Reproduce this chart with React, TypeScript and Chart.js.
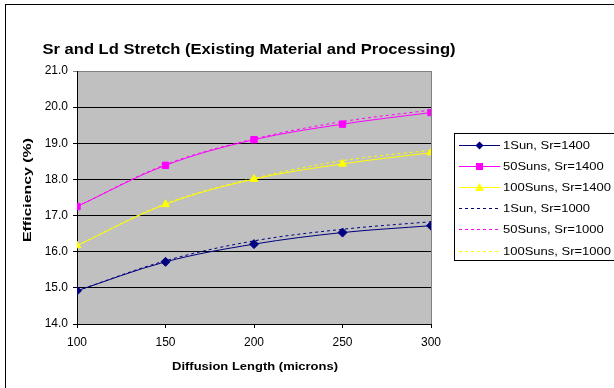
import React, { useEffect, useRef } from 'react';
import { Chart, registerables } from 'chart.js';

Chart.register(...registerables);

const diffusionLengths = [100, 150, 200, 250, 300];
const sun1Sr1400 = [14.92, 15.72, 16.21, 16.53, 16.72];
const suns50Sr1400 = [17.25, 18.39, 19.1, 19.53, 19.85];
const suns100Sr1400 = [16.17, 17.31, 18.01, 18.43, 18.74];
const sun1Sr1000 = [14.92, 15.75, 16.3, 16.62, 16.83];
const suns50Sr1000 = [17.25, 18.41, 19.12, 19.6, 19.92];
const suns100Sr1000 = [16.17, 17.33, 18.03, 18.52, 18.81];
const seriesLabels = [
  '1Sun, Sr=1400',
  '50Suns, Sr=1400',
  '100Suns, Sr=1400',
  '1Sun, Sr=1000',
  '50Suns, Sr=1000',
  '100Suns, Sr=1000',
];
const yMin = 14;
const yMax = 21;
const xMin = 100;
const xMax = 300;

const titleText = 'Sr and Ld Stretch (Existing Material and Processing)';
const xTitle = 'Diffusion Length (microns)';
const yTitle = 'Efficiency (%)';

const NAVY = '#000080';
const MAGENTA = '#FF00FF';
const YELLOW = '#FFFF00';
const FONT = '"Liberation Sans", Arial, sans-serif';

function drawStretched(
  ctx: CanvasRenderingContext2D,
  text: string,
  x: number,
  y: number,
  font: string,
  targetWidth: number,
  rotate = false,
  baseline: CanvasTextBaseline = 'alphabetic'
) {
  ctx.save();
  ctx.font = font;
  const w = ctx.measureText(text).width;
  const sx = targetWidth / w;
  ctx.translate(x, y);
  if (rotate) ctx.rotate(-Math.PI / 2);
  ctx.scale(sx, 1);
  ctx.textAlign = 'center';
  ctx.textBaseline = baseline;
  ctx.fillStyle = '#000';
  ctx.fillText(text, 0, 0);
  ctx.restore();
}

function drawMarker(ctx: CanvasRenderingContext2D, style: string, x: number, y: number, color: string) {
  ctx.save();
  ctx.fillStyle = color;
  ctx.strokeStyle = color;
  ctx.beginPath();
  if (style === 'rectRot') {
    ctx.moveTo(x, y - 4);
    ctx.lineTo(x + 4, y);
    ctx.lineTo(x, y + 4);
    ctx.lineTo(x - 4, y);
    ctx.closePath();
  } else if (style === 'rect') {
    ctx.rect(x - 3.5, y - 3.5, 7, 7);
  } else if (style === 'triangle') {
    ctx.moveTo(x, y - 4.5);
    ctx.lineTo(x + 4.5, y + 3.5);
    ctx.lineTo(x - 4.5, y + 3.5);
    ctx.closePath();
  }
  ctx.fill();
  ctx.restore();
}

const decorPlugin = {
  id: 'decor',
  beforeDraw(chart: any) {
    const { ctx, chartArea } = chart;
    ctx.save();
    ctx.fillStyle = '#fff';
    ctx.fillRect(0, 0, chart.width, chart.height);
    ctx.strokeStyle = '#000';
    ctx.lineWidth = 1;
    ctx.strokeRect(5.5, 4.5, 700, 500);
    ctx.fillStyle = '#C0C0C0';
    ctx.fillRect(chartArea.left, chartArea.top, chartArea.right - chartArea.left, chartArea.bottom - chartArea.top);
    ctx.restore();
  },
  beforeDatasetsDraw(chart: any) {
    const { ctx, chartArea } = chart;
    ctx.save();
    ctx.strokeStyle = '#808080';
    ctx.lineWidth = 1;
    ctx.beginPath();
    ctx.moveTo(Math.round(chartArea.right) + 0.5, chartArea.top);
    ctx.lineTo(Math.round(chartArea.right) + 0.5, chartArea.bottom);
    ctx.stroke();
    ctx.restore();
  },
  afterDraw(chart: any) {
    const ctx: CanvasRenderingContext2D = chart.ctx;
    drawStretched(ctx, titleText, 249, 54, `bold 14px ${FONT}`, 413);
    drawStretched(ctx, xTitle, 255, 370, `bold 11px ${FONT}`, 166);
    drawStretched(ctx, yTitle, 28, 190, `bold 11px ${FONT}`, 104, true, 'middle');

    // legend
    ctx.save();
    ctx.strokeStyle = '#000';
    ctx.lineWidth = 1;
    ctx.strokeRect(454.5, 133.5, 200, 127);
    const datasets = chart.data.datasets;
    datasets.forEach((ds: any, i: number) => {
      const y = Math.round(145 + i * 21.1);
      ctx.save();
      ctx.strokeStyle = ds.borderColor;
      ctx.lineWidth = 1;
      ctx.setLineDash(ds.borderDash || []);
      ctx.beginPath();
      ctx.moveTo(459, y + 0.5);
      ctx.lineTo(500, y + 0.5);
      ctx.stroke();
      ctx.restore();
      if (ds.pointRadius > 0) drawMarker(ctx, ds.pointStyle, 479.5, y + 0.5, ds.borderColor);
      ctx.save();
      ctx.font = `11.5px ${FONT}`;
      ctx.fillStyle = '#000';
      ctx.textBaseline = 'middle';
      ctx.textAlign = 'left';
      ctx.translate(503, y + 1);
      ctx.scale(1.13, 1);
      ctx.fillText(ds.label, 0, 0);
      ctx.restore();
    });
    ctx.restore();
  },
};

function toPoints(values: number[]) {
  return values.map((v, i) => ({ x: diffusionLengths[i], y: v }));
}

export default function App() {
  const canvasRef = useRef<HTMLCanvasElement | null>(null);

  useEffect(() => {
    if (!canvasRef.current) return;
    const solid = (label: string, data: number[], color: string, pointStyle: string, radius: number) => ({
      label,
      data: toPoints(data),
      borderColor: color,
      backgroundColor: color,
      borderWidth: 1,
      pointStyle,
      pointRadius: radius,
      pointBorderWidth: 1,
      pointBorderColor: color,
      pointBackgroundColor: color,
      tension: 0.35,
      fill: false,
    });
    const dotted = (label: string, data: number[], color: string) => ({
      label,
      data: toPoints(data),
      borderColor: color,
      backgroundColor: color,
      borderWidth: 1,
      borderDash: [3, 3],
      pointRadius: 0,
      tension: 0.35,
      fill: false,
    });
    const chart = new Chart(canvasRef.current, {
      type: 'line',
      data: {
        datasets: [
          solid(seriesLabels[0], sun1Sr1400, NAVY, 'rectRot', 4.5),
          solid(seriesLabels[1], suns50Sr1400, MAGENTA, 'rect', 4.5),
          solid(seriesLabels[2], suns100Sr1400, YELLOW, 'triangle', 4.5),
          dotted(seriesLabels[3], sun1Sr1000, NAVY),
          dotted(seriesLabels[4], suns50Sr1000, MAGENTA),
          dotted(seriesLabels[5], suns100Sr1000, YELLOW),
        ] as any,
      },
      options: {
        responsive: false,
        animation: false,
        events: [],
        layout: { padding: { left: 0, top: 71, right: 183, bottom: 0 } },
        plugins: {
          legend: { display: false },
          title: { display: false },
          tooltip: { enabled: false },
        },
        scales: {
          x: {
            type: 'linear',
            min: xMin,
            max: xMax,
            afterFit: (s: any) => {
              s.height = 64;
            },
            ticks: {
              stepSize: 50,
              color: '#000',
              font: { family: FONT, size: 12 },
              padding: 7,
              maxRotation: 0,
            },
            grid: {
              drawOnChartArea: false,
              drawTicks: true,
              tickLength: 4,
              color: '#000',
            },
            border: { display: true, color: '#000', width: 1 },
          },
          y: {
            type: 'linear',
            min: yMin,
            max: yMax,
            afterFit: (s: any) => {
              s.width = 77;
            },
            ticks: {
              stepSize: 1,
              color: '#000',
              font: { family: FONT, size: 12 },
              padding: 5,
              callback: (v: any) => Number(v).toFixed(1),
            },
            grid: {
              drawTicks: true,
              tickLength: 4,
              color: (c: any) => (c.tick && c.tick.value === yMax ? '#808080' : '#000'),
            },
            border: { display: true, color: '#000', width: 1 },
          },
        },
      },
      plugins: [decorPlugin],
    });
    return () => chart.destroy();
  }, []);

  return (
    <div style={{ position: 'absolute', left: 0, top: 0, width: 614, height: 388 }}>
      <canvas ref={canvasRef} width={614} height={388} style={{ display: 'block' }} />
    </div>
  );
}
